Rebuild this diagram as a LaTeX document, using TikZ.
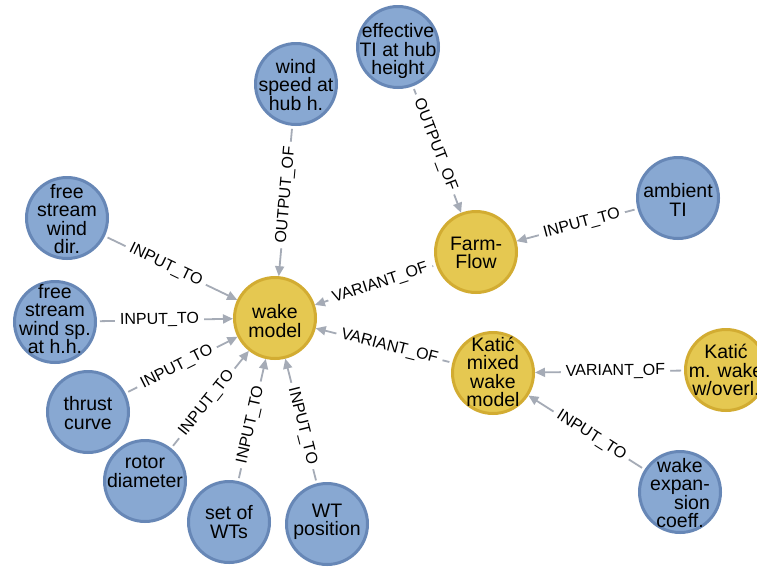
\documentclass[tikz,border=0pt]{standalone}
\usepackage{fontspec}
\setmainfont{Liberation Sans}
\usetikzlibrary{arrows.meta}
\definecolor{bfill}{HTML}{88A8D2}
\definecolor{bdraw}{HTML}{6787B6}
\definecolor{yfill}{HTML}{E5C851}
\definecolor{ydraw}{HTML}{D2AC32}
\definecolor{edgec}{HTML}{A5ABB6}
\begin{document}
\begin{tikzpicture}[x=1pt,y=-1pt,
 bnode/.style={circle, fill=bfill, draw=bdraw, line width=3pt, minimum size=81pt, inner sep=0pt},
 ynode/.style={circle, fill=yfill, draw=ydraw, line width=3pt, minimum size=81pt, inner sep=0pt},
 ntext/.style={align=center, font=\fontsize{19.5}{18.5}\selectfont, inner sep=0pt, text=black},
 edge/.style={draw=edgec, line width=1.8pt, shorten <=3pt, -{Triangle[length=10pt,width=9pt]}},
 elabel/.style={pos=0.46, sloped, fill=white, font=\fontsize{16}{16}\selectfont, inner xsep=5pt, inner ysep=1pt, text=black},
]
\useasboundingbox (0,0) rectangle (757,568);
\clip (0,0) rectangle (757,568);
\fill[white] (0,0) rectangle (757,568);

% nodes
\node[bnode] (ws) at (296,84) {};
\node[ntext] at (296,85) {wind\\speed at\\hub h.};
\node[bnode] (eti) at (398,47) {};
\node[ntext] at (398,51) {effective\\TI at hub\\height};
\node[bnode] (fsd) at (67,218) {};
\node[ntext] at (67,219) {free\\stream\\wind\\dir.};
\node[bnode] (fss) at (55,322) {};
\node[ntext] at (55,319) {free\\stream\\wind sp.\\at h.h.};
\node[bnode] (tc) at (88,412) {};
\node[ntext] at (88,413) {thrust\\curve};
\node[bnode] (rd) at (145,481) {};
\node[ntext] at (145,472) {rotor\\diameter};
\node[bnode] (sw) at (229,522) {};
\node[ntext] at (229,522) {set of\\WTs};
\node[bnode] (wp) at (327,524) {};
\node[ntext] at (327,522) {WT\\position};
\node[ynode] (wm) at (275,318) {};
\node[ntext] at (275,321) {wake\\model};
\node[ynode] (ff) at (476,252) {};
\node[ntext] at (476,253) {Farm-\\Flow};
\node[bnode] (at) at (678,198) {};
\node[ntext] at (678,200) {ambient\\TI};
\node[ynode] (km) at (493,373) {};
\node[ntext] at (493,372) {Kati\'c\\mixed\\wake\\model};
\node[ynode] (kmo) at (726,370) {};
\node[ntext] at (726,370) {Kati\'c\\m. wake\\w/overl.};
\node[bnode] (wec) at (680,492) {};
\node[ntext] at (680,493) {wake\\expan-\\\hspace*{24pt}sion\\coeff.};

% edges
\draw[edge] (ws) -- node[elabel]{OUTPUT\_OF} (wm);
\draw[edge] (eti) -- node[elabel]{OUTPUT\_OF} (ff);
\draw[edge] (at) -- node[elabel]{INPUT\_TO} (ff);
\draw[edge] (ff) -- node[elabel]{VARIANT\_OF} (wm);
\draw[edge] (km) -- node[elabel]{VARIANT\_OF} (wm);
\draw[edge] (kmo) -- node[elabel]{VARIANT\_OF} (km);
\draw[edge] (wec) -- node[elabel]{INPUT\_TO} (km);
\draw[edge] (fsd) -- node[elabel]{INPUT\_TO} (wm);
\draw[edge] (fss) -- node[elabel]{INPUT\_TO} (wm);
\draw[edge] (tc) -- node[elabel]{INPUT\_TO} (wm);
\draw[edge] (rd) -- node[elabel]{INPUT\_TO} (wm);
\draw[edge] (sw) -- node[elabel]{INPUT\_TO} (wm);
\draw[edge] (wp) -- node[elabel]{INPUT\_TO} (wm);
\end{tikzpicture}
\end{document}
